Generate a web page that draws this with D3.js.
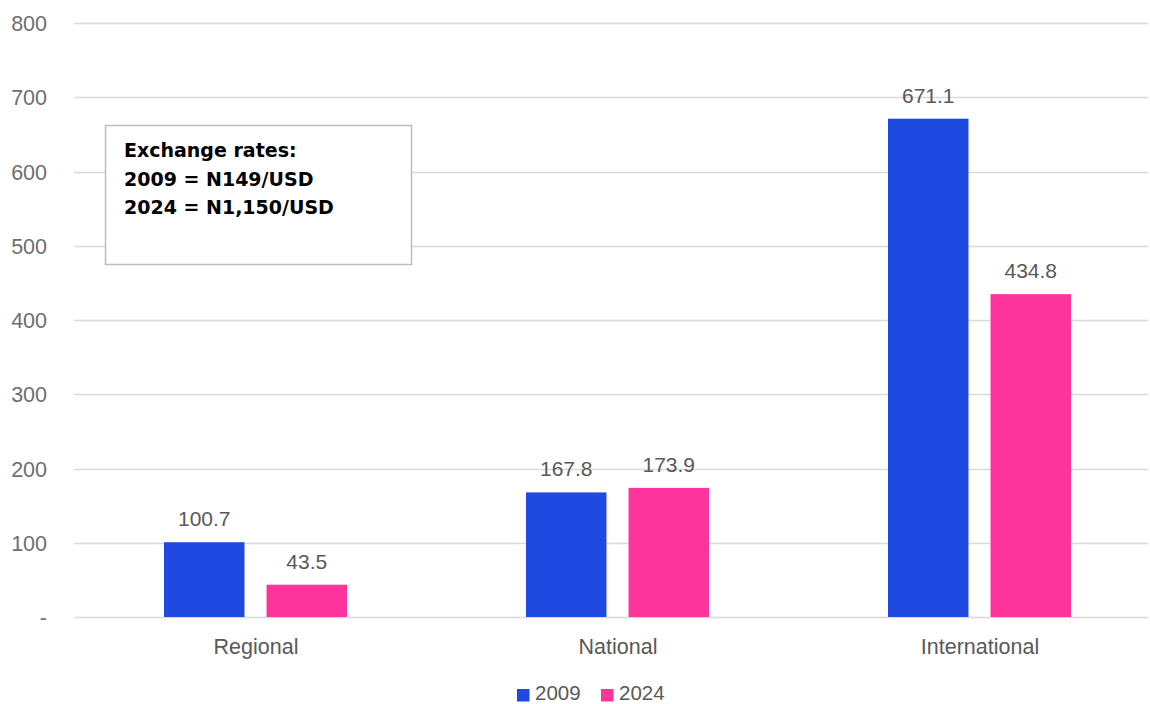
<!DOCTYPE html>
<html>
<head>
<meta charset="utf-8">
<script src="https://cdn.jsdelivr.net/npm/d3@7"></script>
<style>
  body { margin: 0; background: #fff; }
  text { font-family: "Liberation Sans", Arial, sans-serif; }
</style>
</head>
<body>
<svg id="chart" width="1150" height="704"></svg>
<script>
// chart data
const categories = ['Regional', 'National', 'International'];
const seriesNames = ['2009', '2024'];
const values2009 = [100.7, 167.8, 671.1];
const values2024 = [43.5, 173.9, 434.8];
const yTicks = [0, 100, 200, 300, 400, 500, 600, 700, 800];
const noteLines = ['Exchange rates:', '2009 = N149/USD', '2024 = N1,150/USD'];

const colors = { '2009': '#1f4ae1', '2024': '#fd349c' };

const svg = d3.select('#chart');
const margin = { left: 75, right: -11, top: 23, bottom: 87 };
const width = 1150, height = 704;

const x = d3.scaleBand()
  .domain(categories)
  .range([margin.left, width - margin.right]);

// inner band for the two years, centred in each category
const x1 = d3.scaleBand()
  .domain(seriesNames)
  .range([89, 272])
  .paddingInner(0.215);

const y = d3.scaleLinear()
  .domain([0, 800])
  .range([height - margin.bottom, margin.top]);

// gridlines
svg.append('g')
  .selectAll('line')
  .data(yTicks)
  .enter()
  .append('line')
  .attr('x1', 74)
  .attr('x2', 1148)
  .attr('y1', d => Math.round(y(d)) + 0.5)
  .attr('y2', d => Math.round(y(d)) + 0.5)
  .attr('stroke', '#d9d9d9')
  .attr('stroke-width', 1.5);

// y axis labels
svg.append('g')
  .selectAll('text')
  .data(yTicks)
  .enter()
  .append('text')
  .attr('x', 47)
  .attr('y', d => y(d) + 8)
  .attr('text-anchor', 'end')
  .attr('font-size', 21.5)
  .attr('fill', '#6e6e6e')
  .text(d => d === 0 ? '-' : d);

// bars
const rows = categories.map((c, i) => ({ cat: c, vals: [
  { key: '2009', v: values2009[i] },
  { key: '2024', v: values2024[i] }
] }));

const groups = svg.append('g')
  .selectAll('g')
  .data(rows)
  .enter()
  .append('g')
  .attr('transform', d => `translate(${x(d.cat)},0)`);

groups.selectAll('rect')
  .data(d => d.vals)
  .enter()
  .append('rect')
  .attr('x', d => x1(d.key))
  .attr('width', x1.bandwidth())
  .attr('y', d => y(d.v))
  .attr('height', d => y(0) - y(d.v))
  .attr('fill', d => colors[d.key]);

groups.selectAll('text')
  .data(d => d.vals)
  .enter()
  .append('text')
  .attr('x', d => x1(d.key) + x1.bandwidth() / 2)
  .attr('y', d => y(d.v) - 16)
  .attr('text-anchor', 'middle')
  .attr('font-size', 21)
  .attr('fill', '#595959')
  .text(d => d.v.toFixed(1));

// category labels
svg.append('g')
  .selectAll('text')
  .data(categories)
  .enter()
  .append('text')
  .attr('x', d => x(d) + x.bandwidth() / 2)
  .attr('y', 654)
  .attr('text-anchor', 'middle')
  .attr('font-size', 21.5)
  .attr('fill', '#595959')
  .text(d => d);

// legend
const legend = svg.append('g');
const legendX = [517, 601];
seriesNames.forEach((s, i) => {
  legend.append('rect')
    .attr('x', legendX[i])
    .attr('y', 689)
    .attr('width', 12.5)
    .attr('height', 12.5)
    .attr('fill', colors[s]);
  legend.append('text')
    .attr('x', legendX[i] + 18)
    .attr('y', 700)
    .attr('font-size', 20.5)
    .attr('fill', '#595959')
    .text(s);
});

// note box
svg.append('rect')
  .attr('x', 105.5)
  .attr('y', 125.5)
  .attr('width', 306)
  .attr('height', 139)
  .attr('fill', '#fff')
  .attr('stroke', '#bdbdbd')
  .attr('stroke-width', 1.5);

svg.append('g')
  .selectAll('text')
  .data(noteLines)
  .enter()
  .append('text')
  .attr('x', 124)
  .attr('y', (d, i) => 157 + i * 28.5)
  .attr('font-size', 19)
  .attr('font-weight', 'bold')
  .style('font-family', '"DejaVu Sans", sans-serif')
  .attr('fill', '#000')
  .text(d => d);
</script>
</body>
</html>
